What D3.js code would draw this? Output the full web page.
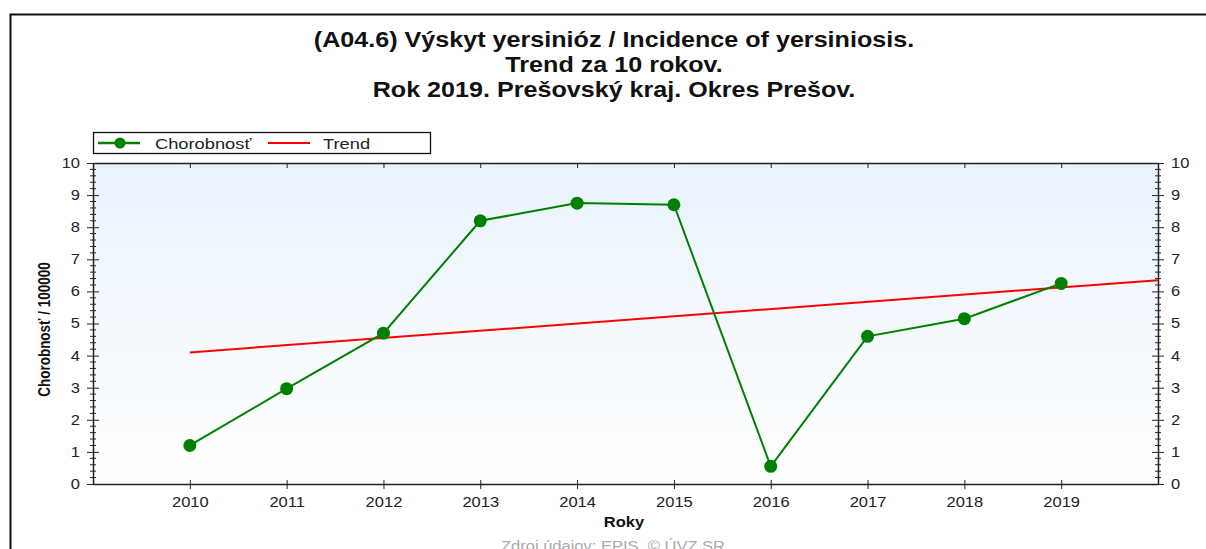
<!DOCTYPE html>
<html><head><meta charset="utf-8">
<script src="https://cdn.jsdelivr.net/npm/d3@7"></script>
<style>html,body{margin:0;padding:0;background:#fff;overflow:hidden}svg{display:block}</style>
</head><body>
<script>
const years = [2010,2011,2012,2013,2014,2015,2016,2017,2018,2019];
const values = [1.2,2.97,4.7,8.2,8.75,8.7,0.55,4.6,5.15,6.25];
const trendYears = [2010,2020];
const trendValues = [4.1,6.35];
const yTicks = [0,1,2,3,4,5,6,7,8,9,10];
const titleLines = ["(A04.6) Výskyt yersinióz / Incidence of yersiniosis.","Trend za 10 rokov.","Rok 2019. Prešovský kraj. Okres Prešov."];
const seriesNames = ["Chorobnosť","Trend"];

const W=1206,H=549;
const L=93,R=1158,T=163,B=484;
const SX=1.18;
const svg=d3.select("body").append("svg").attr("width",W).attr("height",H);
const font="Liberation Sans, Arial, sans-serif";

function addText(parent,x,y,txt,size,opts={}){
  return parent.append("text").attr("transform",`translate(${x},${y}) scale(${SX},1)`)
    .attr("text-anchor",opts.anchor||"start").attr("font-family",font)
    .attr("font-weight",opts.bold?"bold":"normal").attr("font-size",size)
    .attr("fill",opts.fill||"#111").text(txt);
}

const defs=svg.append("defs");
const g=defs.append("linearGradient").attr("id","bg").attr("x1",0).attr("y1",0).attr("x2",0).attr("y2",1);
g.append("stop").attr("offset","0").attr("stop-color","#e9f3fd");
g.append("stop").attr("offset","1").attr("stop-color","#ffffff");

// outer frame
svg.append("path").attr("d",`M10.5,${H+5} L10.5,14.5 L${W+5},14.5`).attr("fill","none").attr("stroke","#111").attr("stroke-width",2);

// title
titleLines.forEach((t,i)=>addText(svg,614,47+i*25.2,t,21.3,{anchor:"middle",bold:true}));

const x=d3.scaleLinear().domain([2009,2020]).range([L,R]);
const y=d3.scaleLinear().domain([0,10]).range([B,T]);

svg.append("rect").attr("x",L).attr("y",T).attr("width",R-L).attr("height",B-T).attr("fill","url(#bg)");

const axisColor="#222";
// bottom
const xb=svg.append("g").attr("transform",`translate(0,${B})`)
 .call(d3.axisBottom(x).tickValues(years).tickFormat(d3.format("d")).tickSize(5).tickSizeOuter(0));
xb.selectAll(".tick line").attr("y1",-4);
xb.selectAll("text").attr("font-family",font).attr("font-size",14).attr("fill","#222")
  .attr("y",0).attr("dy",0).attr("transform",`translate(0,23) scale(${SX},1)`);
// top
const xt=svg.append("g").attr("transform",`translate(0,${T})`)
 .call(d3.axisBottom(x).tickValues(years).tickFormat("").tickSize(5).tickSizeOuter(0));
// left/right
const minor=d3.range(0,10.001,0.2).filter(v=>Math.abs(v-Math.round(v))>0.01);
function yAxis(xpos,left){
  const ga=svg.append("g").attr("transform",`translate(${xpos},0)`);
  const ax = left? d3.axisLeft(y):d3.axisRight(y);
  ga.call(ax.tickValues(yTicks).tickFormat(d3.format("d")).tickSize(6).tickSizeOuter(0));
  ga.selectAll(".tick line").attr("x1",left?6:-6);
  ga.selectAll("text").attr("font-family",font).attr("font-size",14).attr("fill","#222")
    .attr("x",0).attr("transform",`translate(${left?-13:13},0) scale(${SX},1)`);
  ga.selectAll(".minor").data(minor).join("line").attr("class","minor")
    .attr("x1",-3).attr("x2",3).attr("y1",d=>y(d)).attr("y2",d=>y(d)).attr("stroke",axisColor);
  return ga;
}
yAxis(L,true); yAxis(R,false);
svg.selectAll(".domain").attr("stroke","#222").attr("stroke-width",1.5);
svg.selectAll(".tick line").attr("stroke","#222");

// axis titles
svg.append("text").attr("transform",`translate(50,${(T+B)/2+6}) rotate(-90) scale(1,${SX})`).attr("text-anchor","middle")
 .attr("font-family",font).attr("font-weight","bold").attr("font-size",13.5).attr("fill","#111").text("Chorobnosť / 100000");
addText(svg,624,527,"Roky",14,{anchor:"middle",bold:true});
addText(svg,613,551,"Zdroj údajov: EPIS, © ÚVZ SR",14,{anchor:"middle",fill:"#aaa"});

// trend
svg.append("path").datum(trendYears.map((d,i)=>[d,trendValues[i]]))
 .attr("d",d3.line().x(d=>x(d[0])).y(d=>y(d[1]))).attr("fill","none").attr("stroke","#ff0000").attr("stroke-width",2);
// series
const pts=years.map((d,i)=>[d,values[i]]);
svg.append("path").datum(pts).attr("d",d3.line().x(d=>x(d[0])).y(d=>y(d[1])))
 .attr("fill","none").attr("stroke","#008000").attr("stroke-width",2);
svg.selectAll(".pt").data(pts).join("circle").attr("class","pt").attr("cx",d=>x(d[0])).attr("cy",d=>y(d[1])).attr("r",6.5).attr("fill","#008000");

// legend
const lg=svg.append("g");
lg.append("rect").attr("x",93.5).attr("y",132.5).attr("width",337).attr("height",21).attr("fill","#fff").attr("stroke","#111").attr("stroke-width",1.3);
lg.append("line").attr("x1",98).attr("x2",140).attr("y1",143).attr("y2",143).attr("stroke","#008000").attr("stroke-width",2.5);
lg.append("circle").attr("cx",120).attr("cy",143).attr("r",5.5).attr("fill","#008000");
addText(lg,155,148.5,seriesNames[0],15.5,{fill:"#222"});
lg.append("line").attr("x1",268).attr("x2",310).attr("y1",143).attr("y2",143).attr("stroke","#ff0000").attr("stroke-width",2);
addText(lg,323,148.5,seriesNames[1],15.5,{fill:"#222"});
</script>
</body></html>
